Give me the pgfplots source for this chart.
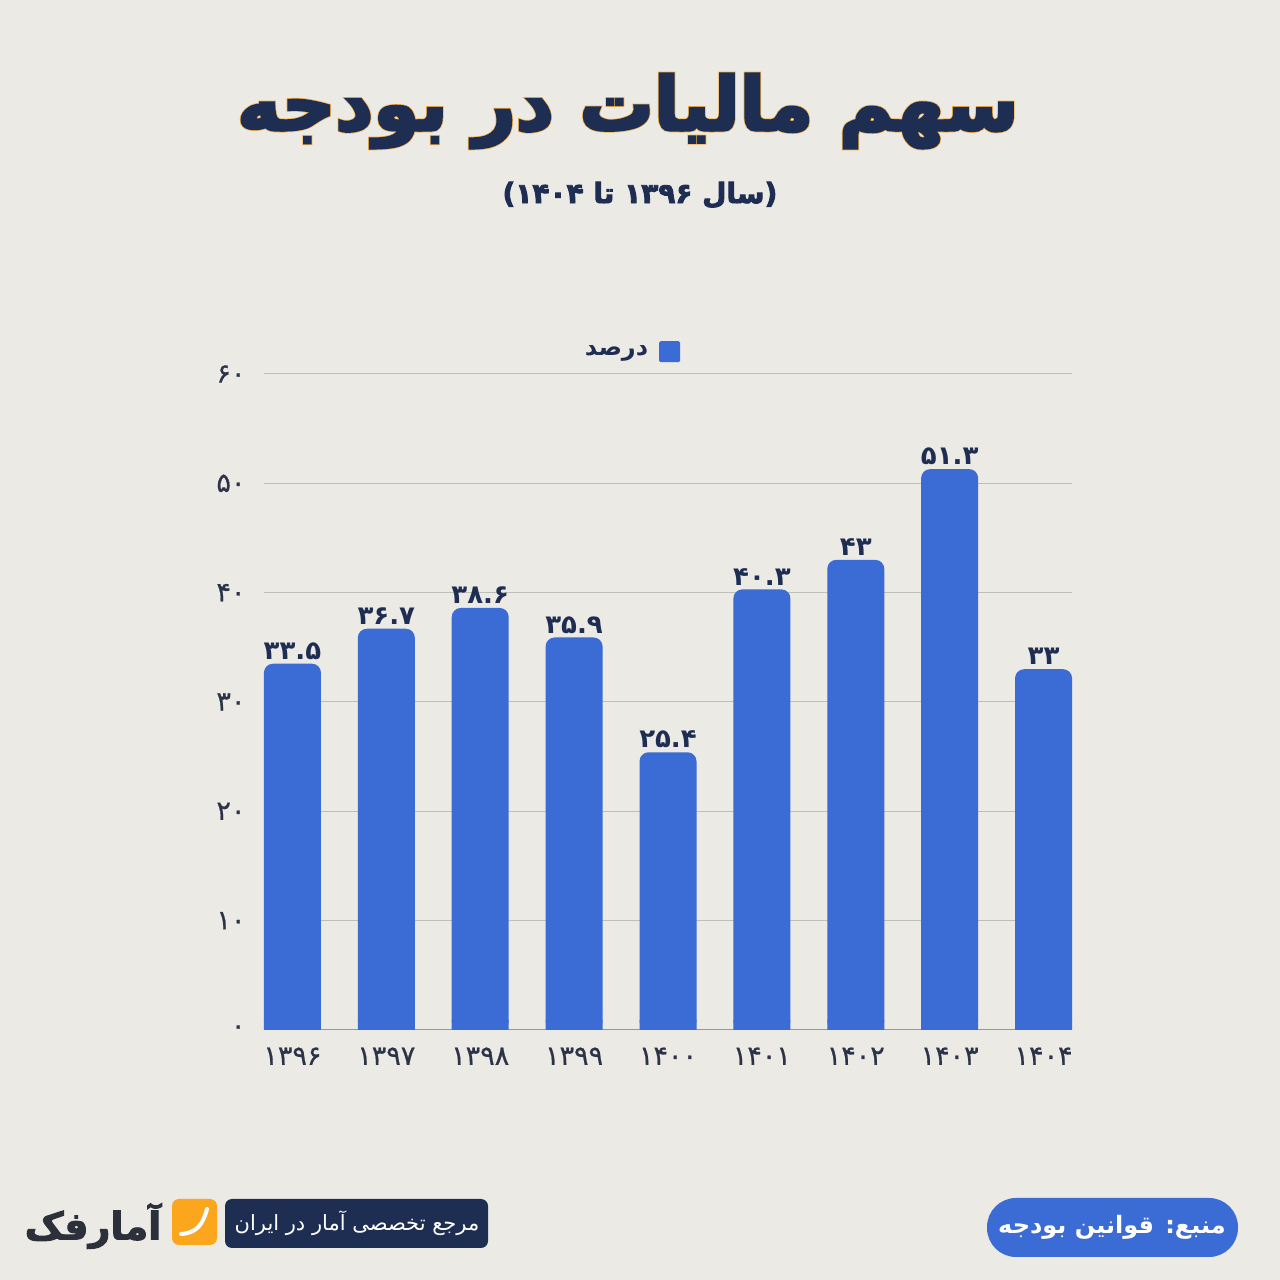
\documentclass[border=0pt]{standalone}
\usepackage{fontspec}
\usepackage{pgfplots}
\usepackage{pgfplotstable}
\pgfplotsset{compat=1.18}
\TeXXeTstate=1
\setmainfont{DejaVu Sans}
\newfontfamily\fa[Script=Arabic]{DejaVu Sans}
\newfontfamily\fatick[Script=Arabic,FakeBold=0.7]{DejaVu Sans}
\newfontfamily\fab[Script=Arabic,UprightFont=* Bold]{DejaVu Sans}
\newfontfamily\fatitle[Script=Arabic,UprightFont=* Bold,FakeBold=4]{DejaVu Sans}
\newfontfamily\fatitleo[Script=Arabic,UprightFont=* Bold,FakeBold=6]{DejaVu Sans}
\newfontfamily\falogo[Script=Arabic,UprightFont=* Bold,FakeBold=2.5]{DejaVu Sans}
\newfontfamily\fasub[Script=Arabic,UprightFont=* Bold,FakeBold=3]{DejaVu Sans}
\definecolor{bgpaper}{HTML}{ECEAE5}
\definecolor{barblue}{HTML}{3B6BD4}
\definecolor{navy}{HTML}{1E2D52}
\definecolor{orangeedge}{HTML}{F2B04A}
\definecolor{logoorange}{HTML}{FBA61C}
\definecolor{logodark}{HTML}{2B303B}
\definecolor{gridgray}{HTML}{BDBDB9}
\definecolor{ticktext}{HTML}{2D3347}
\pgfplotstableread{
x y label
0 33.5 ۳۳.۵
1 36.7 ۳۶.۷
2 38.6 ۳۸.۶
3 35.9 ۳۵.۹
4 25.4 ۲۵.۴
5 40.3 ۴۰.۳
6 43   ۴۳
7 51.3 ۵۱.۳
8 33   ۳۳
}\budget
\begin{document}
\begin{tikzpicture}[x=1pt,y=1pt]
\fill[bgpaper] (0,0) rectangle (1280,1280);
% title
\node[text=orangeedge,font={\fontsize{74}{80}\fatitleo}] at (628,1169) {\beginR سهم مالیات در بودجه\endR};
\node[text=navy,font={\fontsize{74}{80}\fatitle}] at (628,1169) {\beginR سهم مالیات در بودجه\endR};
\node[text=navy,font={\fontsize{28}{32}\fasub}] at (640,1085) {\beginR (سال \beginL ۱۳۹۶\endL{} تا \beginL ۱۴۰۴\endL{})\endR};
\begin{axis}[
  at={(264pt,250pt)},anchor=south west,
  scale only axis,width=808pt,height=656pt,
  xmin=-0.303,xmax=8.303,ymin=0,ymax=60,
  axis lines=left,
  axis line style={-,draw=gridgray!80!black,line width=1pt},
  y axis line style={draw=none},
  ymajorgrids,
  grid style={draw=gridgray,line width=1pt},
  major tick length=0pt,
  xtick={0,...,8},
  xticklabels={۱۳۹۶,۱۳۹۷,۱۳۹۸,۱۳۹۹,۱۴۰۰,۱۴۰۱,۱۴۰۲,۱۴۰۳,۱۴۰۴},
  ytick={0,10,20,30,40,50,60},
  yticklabels={۰,۱۰,۲۰,۳۰,۴۰,۵۰,۶۰},
  tick label style={text=ticktext,font={\fontsize{27}{29}\fatick}},
  xticklabel style={yshift=-14pt},
  yticklabel style={xshift=-15pt},
  clip=false,
  legend style={at={(0.4548,1.034)},anchor=center,draw=none,fill=none,
    font={\fontsize{24}{26}\fab\color{navy}}},
  legend plot pos=right,
  legend image code/.code={\fill[barblue,rounded corners=1.5pt] (8pt,-11pt) rectangle (29pt,10pt);},
]
\addplot[ybar,bar shift=0pt,bar width=57pt,fill=barblue,draw=none,rounded corners=9pt,
  point meta=explicit symbolic,nodes near coords,
  nodes near coords style={anchor=south,text=navy,font={\fontsize{26}{28}\fab},yshift=2pt,inner sep=2pt}]
  table[x=x,y=y,meta=label]{\budget};
\addlegendentry{\beginR درصد\endR\kern9pt}
\addplot[ybar,bar shift=0pt,bar width=57pt,fill=barblue,draw=none,forget plot,
  y filter/.code={\pgfmathparse{min(\pgfmathresult,0.9)}}]
  table[x=x,y=y]{\budget};
\end{axis}
% footer
\fill[navy,rounded corners=7pt] (225,32) rectangle (488,81);
\node[text=white,font={\fontsize{21}{24}\fa}] at (357,57) {\beginR مرجع تخصصی آمار در ایران\endR};
\fill[barblue,rounded corners=29pt] (987,23) rectangle (1238,82);
\node[text=white,font={\fontsize{24}{28}\fab}] at (1112,53) {\beginR منبع: قوانین بودجه\endR};
\fill[logoorange,rounded corners=7pt] (172,35) rectangle (217,81);
\draw[white,line width=4pt,line cap=round] (181,46) .. controls (197,47) and (203,56) .. (207,71);
\node[text=logodark,font={\fontsize{38}{40}\falogo}] at (93,54) {\beginR آمارفک\endR};
\end{tikzpicture}
\end{document}
